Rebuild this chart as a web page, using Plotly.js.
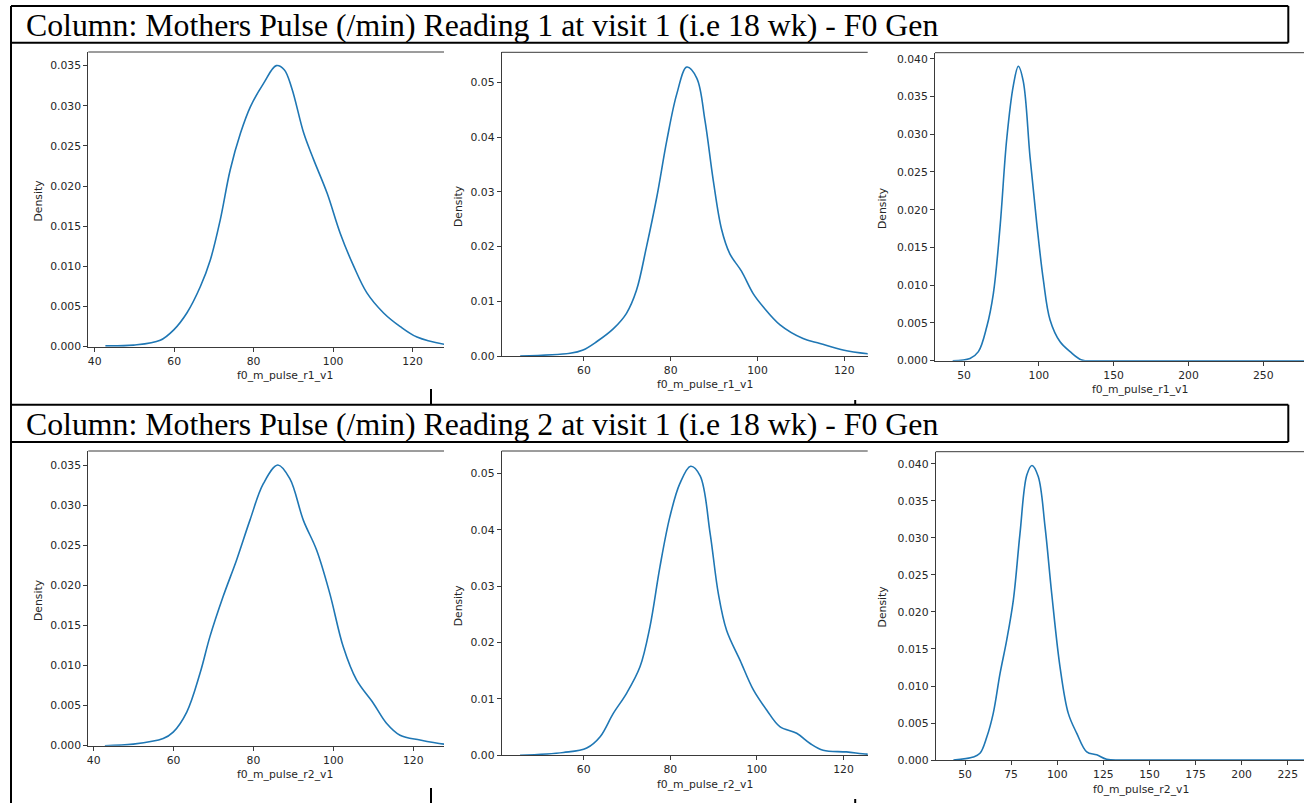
<!DOCTYPE html>
<html>
<head>
<meta charset="utf-8">
<script src="https://cdn.plot.ly/plotly-3.0.1.min.js"></script>
<style>html,body{margin:0;padding:0;background:#fff;}#chart{width:1304px;height:803px;}</style>
</head>
<body>
<div id="chart"></div>
<script>
// ---- Section titles ----
const sectionTitles = [
  "Column: Mothers Pulse (/min) Reading 1 at visit 1 (i.e 18 wk) - F0 Gen",
  "Column: Mothers Pulse (/min) Reading 2 at visit 1 (i.e 18 wk) - F0 Gen"
];
const xLabels = ["f0_m_pulse_r1_v1","f0_m_pulse_r1_v1","f0_m_pulse_r1_v1",
                 "f0_m_pulse_r2_v1","f0_m_pulse_r2_v1","f0_m_pulse_r2_v1"];
const yLabel = "Density";

// ---- KDE curves ----
// Reading 1, panel A
const r1a_pulse = [42.7,49.8,56.5,59.9,63.2,66.6,69.1,71.6,74.1,76.7,79.2,82.5,85.7,87.7,89.6,92.6,95.1,98.5,101.8,105.2,108.5,112.7,116.9,121.1,128,132,136];
const r1a_density = [0.0001,0.0002,0.0008,0.0021,0.0042,0.0075,0.0108,0.0158,0.0220,0.0266,0.0299,0.0328,0.0350,0.0345,0.0322,0.0266,0.0233,0.0191,0.0141,0.0100,0.0067,0.0042,0.0025,0.0012,0.0003,0.0001,0.0];
// Reading 1, panel B
const r1b_pulse = [45.3,56.8,59.8,62.9,66.8,69.8,72.1,74.4,76.8,79.1,81.4,83.7,86.0,87.9,89.8,91.7,93.6,96.3,99.0,101.3,105.2,110.5,114.4,119.7,125.4,130];
const r1b_density = [0.0,0.0005,0.0011,0.0026,0.0050,0.0078,0.0120,0.0199,0.0291,0.0394,0.0479,0.0528,0.0508,0.0430,0.0321,0.0232,0.0187,0.0155,0.0114,0.0090,0.0057,0.0032,0.0023,0.0011,0.0004,0.0001];
// Reading 1, panel C
const r1c_pulse = [42.4,54.0,59.6,65.2,69.6,74.1,78.5,83.0,86.3,89.6,94.1,98.6,103.0,107.5,114.2,120.9,128.7,140,200,285];
const r1c_density = [0.0,0.0003,0.0012,0.0045,0.0089,0.0178,0.0293,0.0365,0.0390,0.0370,0.0270,0.0182,0.0107,0.0054,0.0025,0.0012,0.0001,0.0,0.0,0.0];
// Reading 2, panel A
const r2a_pulse = [42.8,49.9,57.4,59.9,63.3,66.6,69.1,72.4,75.8,79.1,82.5,86.1,89.1,92.5,95.8,99.1,102.5,105.8,110.0,113.3,116.7,121.7,127.7,132,136];
const r2a_density = [0.0,0.0002,0.0009,0.0017,0.0042,0.0090,0.0136,0.0186,0.0232,0.0281,0.0327,0.0350,0.0333,0.0281,0.0244,0.0190,0.0123,0.0082,0.0053,0.0028,0.0013,0.0007,0.0002,0.0001,0.0];
// Reading 2, panel B
const r2b_pulse = [45.3,55.3,60.7,63.8,66.8,69.9,73.0,75.3,77.6,79.9,82.2,84.7,86.9,89.2,91.1,93.0,96.1,99.2,102.3,105.3,109.2,112.3,115.3,120.7,125.5,130];
const r2b_density = [0.0,0.0005,0.0013,0.0033,0.0074,0.0110,0.0157,0.0228,0.0334,0.0423,0.0482,0.0513,0.0496,0.0394,0.0287,0.0222,0.0169,0.0116,0.0080,0.0051,0.0039,0.0021,0.0009,0.0006,0.0002,0.0001];
// Reading 2, panel C
const r2c_pulse = [43.7,54.5,58.1,61.8,65.3,69.0,72.6,76.2,79.8,83.5,86.3,89.7,93.4,97.0,101.5,106.0,110.6,116.0,121.4,126.8,135,180,240];
const r2c_density = [0.0,0.0004,0.0009,0.0031,0.0063,0.0117,0.0162,0.0216,0.0306,0.0385,0.0398,0.0383,0.0315,0.0225,0.0126,0.0063,0.0036,0.0011,0.0007,0.0001,0.0,0.0,0.0];

// ---- Tick values ----
const xTicksA = [40,60,80,100,120];
const xTicksB = [60,80,100,120];
const xTicksC1 = [50,100,150,200,250];
const xTicksC2 = [50,75,100,125,150,175,200,225];
const yTicks35 = [0,0.005,0.010,0.015,0.020,0.025,0.030,0.035];
const yTicks05 = [0,0.01,0.02,0.03,0.04,0.05];
const yTicks40 = [0,0.005,0.010,0.015,0.020,0.025,0.030,0.035,0.040];

const series = [
  {x:r1a_pulse, y:r1a_density},
  {x:r1b_pulse, y:r1b_density},
  {x:r1c_pulse, y:r1c_density},
  {x:r2a_pulse, y:r2a_density},
  {x:r2b_pulse, y:r2b_density},
  {x:r2c_pulse, y:r2c_density}
];

// ---- Layout geometry (pixels in the 1304x803 page) ----
const W = 1304, H = 803;
const fx = v => v / W;
const fy = v => 1 - v / H;

const panels = [
  {l:88.3, r:444,  t:52,   b:346.7, xr:[38.4,127.9],  yr:[0,0.0367], xt:xTicksA,  yt:yTicks35, yd:3, dl:[38,200.5],  xl:[285,375]},
  {l:501.7,r:867.7,t:52.3, b:356,   xr:[41.04,125.4], yr:[0,0.0555], xt:xTicksB,  yt:yTicks05, yd:2, dl:[458.3,205.7], xl:[705,385]},
  {l:935,  r:1304, t:52.7, b:360.7, xr:[30.6,277.2],  yr:[0,0.0408], xt:xTicksC1, yt:yTicks40, yd:3, dl:[882.7,208.3], xl:[1140,390]},
  {l:88.3, r:444,  t:451,  b:745.7, xr:[38.65,127.7], yr:[0,0.03675],xt:xTicksA,  yt:yTicks35, yd:3, dl:[38,600],    xl:[285,774]},
  {l:501.7,r:867.7,t:451,  b:755.3, xr:[41.06,125.6], yr:[0,0.054],  xt:xTicksB,  yt:yTicks05, yd:2, dl:[458.3,605],  xl:[705,784]},
  {l:935.7,r:1304, t:451.7,b:760,   xr:[34.1,233.8],  yr:[0,0.04166],xt:xTicksC2, yt:yTicks40, yd:3, dl:[882.7,606.7], xl:[1141,789.3]}
];

const tickFont = {family:'DejaVu Sans, sans-serif', size:10.8, color:'#262626'};
const spineColor = '#3a3a3a';

const data = [];
const layout = {
  width:W, height:H,
  margin:{l:0,r:0,t:0,b:0,pad:0},
  paper_bgcolor:'#ffffff', plot_bgcolor:'rgba(0,0,0,0)',
  showlegend:false,
  font:tickFont,
  shapes:[], annotations:[]
};

panels.forEach((p,i) => {
  const n = i+1;
  const xa = n===1 ? 'xaxis' : 'xaxis'+n;
  const ya = n===1 ? 'yaxis' : 'yaxis'+n;
  const xr = n===1 ? 'x' : 'x'+n;
  const yr = n===1 ? 'y' : 'y'+n;
  data.push({
    type:'scatter', mode:'lines', x:series[i].x, y:series[i].y,
    xaxis:xr, yaxis:yr,
    line:{color:'#1f77b4', width:1.6, shape:'spline', smoothing:1},
    hoverinfo:'skip'
  });
  layout[xa] = {
    domain:[fx(p.l), fx(p.r)], range:p.xr, anchor:yr,
    showgrid:false, zeroline:false, showline:true, linecolor:spineColor, linewidth:1,
    ticks:'outside', ticklen:4, tickwidth:1, tickcolor:spineColor,
    tickmode:'array', tickvals:p.xt, ticktext:p.xt.map(String),
    tickfont:tickFont, fixedrange:true
  };
  layout[ya] = {
    domain:[fy(p.b), fy(p.t)], range:p.yr, anchor:xr,
    showgrid:false, zeroline:false, showline:true, linecolor:spineColor, linewidth:1,
    ticks:'outside', ticklen:4, tickwidth:1, tickcolor:spineColor,
    tickmode:'array', tickvals:p.yt, ticktext:p.yt.map(v => v.toFixed(p.yd)),
    tickfont:tickFont, fixedrange:true
  };
  // top spine
  layout.shapes.push({type:'line', xref:xr+' domain', yref:yr+' domain', x0:0, x1:1, y0:1, y1:1,
    line:{color:spineColor, width:1}});
  // axis labels
  layout.annotations.push({text:yLabel, xref:'paper', yref:'paper', x:fx(p.dl[0]), y:fy(p.dl[1]),
    xanchor:'center', yanchor:'middle', textangle:-90, showarrow:false, font:tickFont});
  layout.annotations.push({text:xLabels[i], xref:'paper', yref:'paper', x:fx(p.xl[0]), y:fy(p.xl[1]),
    xanchor:'center', yanchor:'middle', showarrow:false, font:tickFont});
});

// ---- Document borders ----
const blk = {color:'#000', width:2};
function seg(x0,y0,x1,y1){ layout.shapes.push({type:'line', xref:'paper', yref:'paper',
  x0:fx(x0), y0:fy(y0), x1:fx(x1), y1:fy(y1), line:blk}); }
// title box 1
seg(11,6,1288.3,6); seg(11,42.7,1288.3,42.7); seg(1288.3,6,1288.3,42.7);
// left border full height
seg(11,6,11,803);
// title box 2
seg(11,404.7,1288.3,404.7); seg(11,442,1288.3,442); seg(1288.3,404.7,1288.3,442);
// small cell dividers
seg(431,389,431,404.7); seg(855.2,400,855.2,404.7);
seg(431,788,431,803); seg(855.2,799,855.2,803);

// titles
const titleFont = {family:'Liberation Serif, Times New Roman, serif', size:31.8, color:'#000'};
layout.annotations.push({text:sectionTitles[0], xref:'paper', yref:'paper', x:fx(24), y:fy(25),
  xanchor:'left', yanchor:'middle', showarrow:false, font:titleFont});
layout.annotations.push({text:sectionTitles[1], xref:'paper', yref:'paper', x:fx(24), y:fy(424),
  xanchor:'left', yanchor:'middle', showarrow:false, font:titleFont});

Plotly.newPlot('chart', data, layout, {staticPlot:true, displayModeBar:false});
</script>
</body>
</html>
